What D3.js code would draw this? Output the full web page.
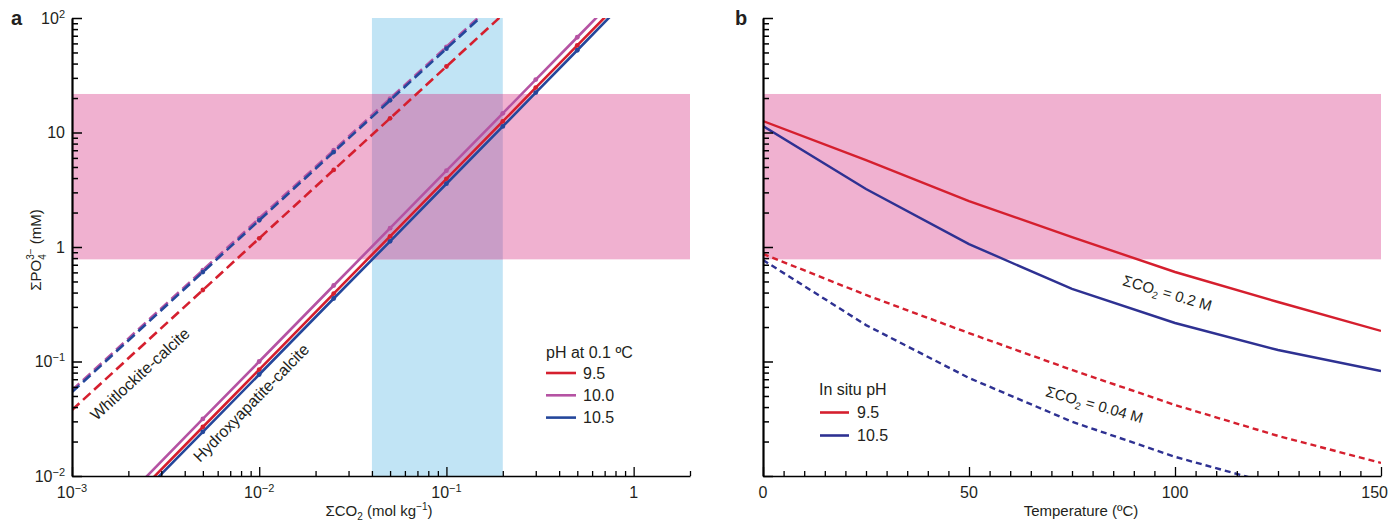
<!DOCTYPE html>
<html><head><meta charset="utf-8">
<script src="https://cdn.jsdelivr.net/npm/d3@7"></script>
<style>
body{margin:0;background:#fff}
text{font-family:"Liberation Sans",Arial,Helvetica,sans-serif;fill:#231f20}
</style>
</head><body>
<svg id="chart" width="1390" height="524"></svg>
<script>
// ---------- DATA ----------
// Panel a: saturation lines vs total CO2 (mol/kg)
const hapCO2 = [0.002, 0.005, 0.01, 0.025, 0.05, 0.1, 0.2, 0.3, 0.5, 0.8];
const hapPH95  = [0.0058, 0.0268, 0.085, 0.392, 1.24, 3.94, 12.5, 24.7, 57.7, 126];
const hapPH100 = [0.0068, 0.0315, 0.100, 0.461, 1.46, 4.64, 14.7, 29.0, 67.9, 149];
const hapPH105 = [0.0053, 0.0243, 0.077, 0.355, 1.12, 3.57, 11.3, 22.3, 52.3, 115];

const whtCO2 = [0.001, 0.005, 0.01, 0.025, 0.05, 0.1, 0.2];
const whtPH95  = [0.0377, 0.421, 1.19, 4.71, 13.3, 37.7, 107];
const whtPH100 = [0.056, 0.628, 1.78, 7.0, 19.8, 56, 158];
const whtPH105 = [0.054, 0.604, 1.71, 6.75, 19.1, 54, 153];

const phLabelsA = ["9.5", "10.0", "10.5"];

// Panel b: vs temperature
const temps = [0, 25, 50, 75, 100, 125, 150];
const co2High_ph95  = [12.6, 5.75, 2.52, 1.22, 0.605, 0.331, 0.185];
const co2High_ph105 = [11.4, 3.21, 1.06, 0.430, 0.217, 0.126, 0.0826];
const co2Low_ph95   = [0.87, 0.381, 0.177, 0.0843, 0.0417, 0.0224, 0.0130];
const co2Low_ph105  = [0.77, 0.208, 0.0718, 0.0298, 0.0147, 0.0083];
const phLabelsB = ["9.5", "10.5"];

// Shaded ranges
const phosphateBand = [0.78, 21.7];   // mM
const co2Band = [0.04, 0.2];          // mol/kg

// Axis ticks
const yMajor = [0.01, 0.1, 1, 10, 100];
const yMajorLabels = [["10","−2"],["10","−1"],["1",""],["10",""],["10","2"]];
const xMajorA = [0.001, 0.01, 0.1, 1];
const xMajorALabels = [["10","−3"],["10","−2"],["10","−1"],["1",""]];
const xMajorB = [0, 50, 100, 150];
const xMinorB = d3.range(0, 151, 5);

// ---------- STYLE ----------
const RED = "#d51f2e", MAG = "#b553a3", BLUEA = "#24479b", BLUEB = "#2e3192";
const PINK = "#f0b1d0", LBLUE = "#c1e4f5", OVER = "#c99dc7";
const FS = 16;

const svg = d3.select("#chart");
const yTop = 18, yBot = 476;

const xA = d3.scaleLog().domain([0.001, 2]).range([72, 690]);
const yA = d3.scaleLog().domain([0.01, 100]).range([yBot, yTop]);
const xB = d3.scaleLinear().domain([0, 150]).range([763, 1381]);
const yB = d3.scaleLog().domain([0.01, 100]).range([yBot, yTop]);

const defs = svg.append("defs");
defs.append("clipPath").attr("id","clipA").append("rect")
  .attr("x", xA.range()[0]).attr("y", yTop).attr("width", xA.range()[1]-xA.range()[0]).attr("height", yBot-yTop);
defs.append("clipPath").attr("id","clipB").append("rect")
  .attr("x", xB.range()[0]).attr("y", yTop).attr("width", xB.range()[1]-xB.range()[0]).attr("height", yBot-yTop);

// ---------- PANEL A ----------
const gA = svg.append("g");
gA.append("rect").attr("x", xA(co2Band[0])).attr("width", xA(co2Band[1]) - xA(co2Band[0]))
  .attr("y", yTop).attr("height", yBot - yTop).attr("fill", LBLUE);
gA.append("rect").attr("x", xA.range()[0]).attr("width", xA.range()[1] - xA.range()[0])
  .attr("y", yA(phosphateBand[1])).attr("height", yA(phosphateBand[0]) - yA(phosphateBand[1])).attr("fill", PINK);
gA.append("rect").attr("x", xA(co2Band[0])).attr("width", xA(co2Band[1]) - xA(co2Band[0]))
  .attr("y", yA(phosphateBand[1])).attr("height", yA(phosphateBand[0]) - yA(phosphateBand[1])).attr("fill", OVER);

const lineA = d3.line().x(d => xA(d[0])).y(d => yA(d[1]));
const linesA = gA.append("g").attr("clip-path", "url(#clipA)");
const seriesA = [
  {x: whtCO2, y: whtPH95, c: RED, dash: true},
  {x: whtCO2, y: whtPH100, c: MAG, dash: true},
  {x: whtCO2, y: whtPH105, c: BLUEA, dash: true},
  {x: hapCO2, y: hapPH100, c: MAG, dash: false},
  {x: hapCO2, y: hapPH95, c: RED, dash: false},
  {x: hapCO2, y: hapPH105, c: BLUEA, dash: false}
];
seriesA.forEach(s => {
  const pts = s.x.map((v, i) => [v, s.y[i]]);
  linesA.append("path").attr("d", lineA(pts)).attr("fill", "none")
    .attr("stroke", s.c).attr("stroke-width", 2.6)
    .attr("stroke-dasharray", s.dash ? "10,5" : null);
  const inner = pts.slice(1, s.dash ? 6 : pts.length - 1);
  linesA.selectAll(null).data(inner).join("circle")
    .attr("cx", d => xA(d[0])).attr("cy", d => yA(d[1])).attr("r", 2.4).attr("fill", s.c);
});

// ---------- PANEL B ----------
const gB = svg.append("g");
gB.append("rect").attr("x", xB.range()[0]).attr("width", xB.range()[1] - xB.range()[0])
  .attr("y", yB(phosphateBand[1])).attr("height", yB(phosphateBand[0]) - yB(phosphateBand[1])).attr("fill", PINK);
const lineB = d3.line().x(d => xB(d[0])).y(d => yB(d[1]));
const linesB = gB.append("g").attr("clip-path", "url(#clipB)");
const seriesB = [
  {y: co2Low_ph95, c: RED, dash: true},
  {y: co2Low_ph105, c: BLUEB, dash: true},
  {y: co2High_ph95, c: RED, dash: false},
  {y: co2High_ph105, c: BLUEB, dash: false}
];
seriesB.forEach(s => {
  const pts = s.y.map((v, i) => [temps[i], v]);
  linesB.append("path").attr("d", lineB(pts)).attr("fill", "none")
    .attr("stroke", s.c).attr("stroke-width", 2.4)
    .attr("stroke-dasharray", s.dash ? "6,4" : null);
});

// ---------- AXES ----------
function supLabel(sel, parts, subSize) {
  sel.text(null);
  sel.append("tspan").text(parts[0]);
  if (parts[1]) sel.append("tspan").attr("font-size", subSize).attr("dy", "-0.55em").text(parts[1]);
}

function yAxis(scale, x0, withLabels) {
  const g = svg.append("g").attr("transform", `translate(${x0},0)`);
  const ticks = scale.ticks();
  g.call(d3.axisLeft(scale).tickValues(ticks).tickSizeInner(-5).tickSizeOuter(0).tickPadding(12).tickFormat(""));
  g.select(".domain").attr("stroke", "#000").attr("stroke-width", 2.2);
  g.selectAll(".tick line").attr("stroke", "#000").attr("stroke-width", 1.5)
    .attr("x2", d => yMajor.some(m => Math.abs(Math.log10(m) - Math.log10(d)) < 1e-6) ? 10 : 6);
  if (withLabels) {
    yMajor.forEach((m, i) => {
      const t = g.append("text").attr("x", -7).attr("y", scale(m)).attr("dy", "0.36em")
        .attr("text-anchor", "end").attr("font-size", FS);
      supLabel(t, yMajorLabels[i], 11);
    });
  }
  return g;
}

function xAxisA() {
  const g = svg.append("g").attr("transform", `translate(0,${yBot})`);
  const ticks = xA.ticks();
  g.call(d3.axisBottom(xA).tickValues(ticks).tickSizeInner(-5).tickSizeOuter(0).tickFormat(""));
  g.select(".domain").attr("stroke", "#000").attr("stroke-width", 1.6);
  g.selectAll(".tick line").attr("stroke", "#000").attr("stroke-width", 1.3)
    .attr("y2", d => xMajorA.some(m => Math.abs(Math.log10(m) - Math.log10(d)) < 1e-6) ? -9 : -5);
  xMajorA.forEach((m, i) => {
    const t = g.append("text").attr("x", xA(m)).attr("y", 22).attr("text-anchor", "middle").attr("font-size", FS);
    supLabel(t, xMajorALabels[i], 11);
  });
}

function xAxisB() {
  const g = svg.append("g").attr("transform", `translate(0,${yBot})`);
  g.call(d3.axisBottom(xB).tickValues(xMinorB).tickSizeInner(-5).tickSizeOuter(0).tickFormat(""));
  g.select(".domain").attr("stroke", "#000").attr("stroke-width", 1.6);
  g.selectAll(".tick line").attr("stroke", "#000").attr("stroke-width", 1.3)
    .attr("y2", d => xMajorB.includes(d) ? -9 : -5);
  xMajorB.forEach((m, i) => {
    const last = i === xMajorB.length - 1;
    g.append("text").attr("x", last ? 1388 : xB(m)).attr("y", 22)
      .attr("text-anchor", last ? "end" : "middle").attr("font-size", FS).text(m);
  });
}

xAxisA();
yAxis(yA, 72, true);
xAxisB();
yAxis(yB, 763, false);

// ---------- TEXT ----------
svg.append("text").attr("x", 11).attr("y", 25).attr("font-size", 20).attr("font-weight", "bold").text("a");
svg.append("text").attr("x", 735).attr("y", 25).attr("font-size", 20).attr("font-weight", "bold").text("b");

const yl = svg.append("text").attr("transform", "translate(41,250) rotate(-90)")
  .attr("text-anchor", "middle").attr("font-size", 15);
yl.append("tspan").text("ΣPO");
yl.append("tspan").attr("font-size", 10).attr("dy", 5).text("4");
yl.append("tspan").attr("font-size", 10).attr("dx", -5.6).attr("dy", -12).text("3−");
yl.append("tspan").attr("dy", 7).text(" (mM)");

const xl = svg.append("text").attr("x", (xA.range()[0] + xA.range()[1]) / 2 - 2).attr("y", 516)
  .attr("text-anchor", "middle").attr("font-size", 15);
xl.append("tspan").text("ΣCO");
xl.append("tspan").attr("font-size", 10).attr("dy", 4).text("2");
xl.append("tspan").attr("dy", -4).text(" (mol kg");
xl.append("tspan").attr("font-size", 10).attr("dy", -6).text("−1");
xl.append("tspan").attr("dy", 6).text(")");

svg.append("text").attr("x", 1081).attr("y", 516)
  .attr("text-anchor", "middle").attr("font-size", 15).text("Temperature (ºC)");

function rotLabel(px, py, ang, txt) {
  return svg.append("text").attr("transform", `translate(${px},${py}) rotate(${ang})`).attr("font-size", FS).text(txt);
}
rotLabel(xA(0.00135), yA(0.0300), -42.5, "Whitlockite-calcite");
rotLabel(xA(0.00483), yA(0.0130), -45.6, "Hydroxyapatite-calcite");

function co2Label(px, py, ang, val) {
  const t = svg.append("text").attr("transform", `translate(${px},${py}) rotate(${ang})`).attr("font-size", 15);
  t.append("tspan").text("ΣCO");
  t.append("tspan").attr("font-size", 10).attr("dy", 4).text("2");
  t.append("tspan").attr("dy", -4).text(" = " + val);
}
co2Label(xB(87.1), yB(0.466), 16.5, "0.2 M");
co2Label(xB(68.4), yB(0.05), 15.8, "0.04 M");

const legA = svg.append("g").attr("transform", "translate(546,0)");
legA.append("text").attr("x", 0).attr("y", 358).attr("font-size", FS).text("pH at 0.1 ºC");
[RED, MAG, BLUEA].forEach((c, i) => {
  const y = 373 + i * 22.3;
  legA.append("line").attr("x1", 0).attr("x2", 30).attr("y1", y).attr("y2", y).attr("stroke", c).attr("stroke-width", 2.6);
  legA.append("text").attr("x", 37).attr("y", y).attr("dy", "0.36em").attr("font-size", FS).text(phLabelsA[i]);
});

const legB = svg.append("g").attr("transform", "translate(819,0)");
legB.append("text").attr("x", 0).attr("y", 395).attr("font-size", FS).text("In situ pH");
[RED, BLUEB].forEach((c, i) => {
  const y = 412.5 + i * 23;
  legB.append("line").attr("x1", 1).attr("x2", 30).attr("y1", y).attr("y2", y).attr("stroke", c).attr("stroke-width", 2.6);
  legB.append("text").attr("x", 38).attr("y", y).attr("dy", "0.36em").attr("font-size", FS).text(phLabelsB[i]);
});
</script>
</body></html>
